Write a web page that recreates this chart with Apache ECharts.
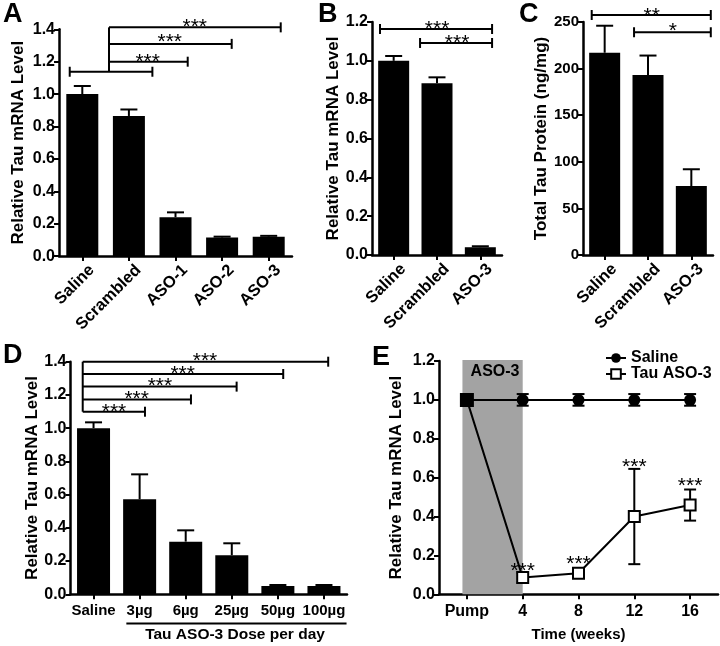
<!DOCTYPE html>
<html><head><meta charset="utf-8">
<script src="https://cdn.jsdelivr.net/npm/echarts@6/dist/echarts.min.js"></script>
<style>html,body{margin:0;padding:0;background:#fff}#c{width:720px;height:646px}</style>
</head><body><div id="c"></div>
<script>
// ---------- DATA ----------
const catsA = ['Saline','Scrambled','ASO-1','ASO-2','ASO-3'];
const valsA = [1.0, 0.865, 0.24, 0.115, 0.12];
const errA  = [0.05, 0.04, 0.03, 0.005, 0.005];

const catsB = ['Saline','Scrambled','ASO-3'];
const valsB = [1.0, 0.885, 0.04];
const errB  = [0.025, 0.03, 0.005];

const catsC = ['Saline','Scrambled','ASO-3'];
const valsC = [217, 193, 74];
const errC  = [29, 21, 18];

const catsD = ['Saline','3µg','6µg','25µg','50µg','100µg'];
const valsD = [1.0, 0.572, 0.317, 0.235, 0.05, 0.05];
const errD  = [0.035, 0.15, 0.068, 0.072, 0.006, 0.006];

const timeE = ['Pump','4','8','12','16'];
const salineE    = [1.0, 1.0, 1.0, 1.0, 1.0];
const salineErrE = [0, 0.03, 0.03, 0.03, 0.03];
const asoE       = [1.0, 0.086, 0.108, 0.40, 0.459];
const asoErrE    = [0, 0.025, 0.02, 0.245, 0.08];

// significance annotations (data coordinates: category index, value)
const bracketsA = [[-0.27,1.504,1.138,1,1],[0.573,2.262,1.2,0,1],[0.573,3.206,1.31,0,1],[0.573,4.258,1.412,0,1]];
const linksA = [[0.573,1.138,1.412]];
const starsA = [[1.403,1.229,'***'],[1.876,1.352,'***'],[2.413,1.445,'***']];

const bracketsB = [[-0.315,2.271,1.164,1,1],[0.609,2.271,1.092,1,1]];
const starsB = [[1.001,1.19,'***'],[1.463,1.117,'***']];

const bracketsC = [[-0.299,2.449,257.5,1,1],[0.678,2.449,239,1,1]];
const starsC = [[1.087,262,'**'],[1.572,245.4,'*']];

const bracketsD = [[-0.235,1.116,1.099,0,1],[-0.235,2.114,1.173,0,1],[-0.235,3.105,1.25,0,1],[-0.235,4.116,1.326,0,1],[-0.235,5.092,1.4,0,1],[0.712,5.49,-0.175,0,0]];
const linksD = [[-0.235,1.099,1.4]];
const starsD = [[0.444,1.129,'***'],[0.936,1.206,'***'],[1.441,1.28,'***'],[1.934,1.356,'***'],[2.418,1.435,'***']];
const textsD = [[3.07,-0.245,'Tau ASO-3 Dose per day']];

const shadeE = [[-0.08,1.0,0,1.205]];
const textsE = [[0.504,1.145,'ASO-3']];
const starsE = [[1,0.146,'***'],[2,0.183,'***'],[3,0.682,'***'],[4,0.582,'***']];

// ---------- STYLE / LAYOUT ----------
const FF = "'Liberation Sans', Arial, sans-serif";
const grids = [
  {left:59,   top:29.3, width:233,   height:226.8},
  {left:372,  top:22,   width:130,   height:233},
  {left:583,  top:22,   width:130,   height:233},
  {left:70.5, top:361.7,width:276.5, height:232.6},
  {left:439,  top:361,  width:279,   height:233.3}
];
const catData = [catsA, catsB, catsC, catsD, timeE];

const axisLine = {show:true, onZero:false, lineStyle:{color:'#000', width:2.5}};
const axisTick = {show:true, length:5, lineStyle:{color:'#000', width:2}};

const xAxes = [];
catData.forEach((cats, i) => {
  const rot = i < 3;
  const lab = {color:'#000', fontFamily:FF, fontWeight:'bold', fontSize: rot?16.5:(i===4?16:15),
      rotate: rot?45:0, interval:0, margin: rot?2:9};
  if (rot) { lab.verticalAlign = 'top'; lab.lineHeight = 27; }
  xAxes.push({
    type:'category', gridIndex:i, data:cats,
    axisLine, axisTick:Object.assign({alignWithLabel:true}, axisTick),
    axisLabel: lab,
    name: i===4 ? 'Time (weeks)' : '', nameLocation:'middle', nameGap:33,
    nameTextStyle:{color:'#000', fontFamily:FF, fontWeight:'bold', fontSize:15}
  });
  xAxes.push({type:'value', gridIndex:i, show:false, min:-0.5, max:cats.length-0.5,
    axisLine:{onZero:false}});
});

const yCfg = [
  {max:1.4, interval:0.2, dec:1, name:'Relative Tau mRNA Level', gap:32},
  {max:1.2, interval:0.2, dec:1, name:'Relative Tau mRNA Level', gap:30},
  {max:250, interval:50, dec:0, name:'Total Tau Protein (ng/mg)', gap:31},
  {max:1.4, interval:0.2, dec:1, name:'Relative Tau mRNA Level', gap:30},
  {max:1.2, interval:0.2, dec:1, name:'Relative Tau mRNA Level', gap:34}
];
const yAxes = yCfg.map((c, i) => ({
  type:'value', gridIndex:i, min:0, max:c.max, interval:c.interval,
  splitLine:{show:false}, axisLine, axisTick,
  axisLabel:{color:'#000', fontFamily:FF, fontWeight:'bold', fontSize: i===2?15:16, margin:4,
    formatter: v => v.toFixed(c.dec)},
  name:c.name, nameLocation:'middle', nameGap:c.gap, nameRotate:90,
  nameTextStyle:{color:'#000', fontFamily:FF, fontWeight:'bold', fontSize:17}
}));

// ---------- RENDERERS ----------
function errBarSeries(g, vals, errs, both, capW, z) {
  return {
    type:'custom', xAxisIndex:2*g, yAxisIndex:g, z:z||3, silent:true,
    data: vals.map((v, i) => [i, both ? v - errs[i] : v, v + errs[i]]),
    renderItem: function(params, api) {
      const i = params.dataIndex;
      if (!errs[i]) return null;
      const lo = api.coord([api.value(0), api.value(1)]);
      const hi = api.coord([api.value(0), api.value(2)]);
      const st = {stroke:'#000', lineWidth:2};
      const ch = [
        {type:'line', shape:{x1:lo[0], y1:lo[1], x2:hi[0], y2:hi[1]}, style:st},
        {type:'line', shape:{x1:hi[0]-capW/2, y1:hi[1], x2:hi[0]+capW/2, y2:hi[1]}, style:st}
      ];
      if (both) ch.push({type:'line', shape:{x1:lo[0]-capW/2, y1:lo[1], x2:lo[0]+capW/2, y2:lo[1]}, style:st});
      return {type:'group', children:ch};
    }
  };
}

function bracketSeries(g, arr) {
  return {
    type:'custom', xAxisIndex:2*g+1, yAxisIndex:g, z:5, silent:true, clip:false,
    data: arr.map(b => [b[0], b[1], b[2]]),
    renderItem: function(params, api) {
      const b = arr[params.dataIndex];
      const p1 = api.coord([b[0], b[2]]), p2 = api.coord([b[1], b[2]]);
      const st = {stroke:'#000', lineWidth:2};
      const ch = [{type:'line', shape:{x1:p1[0], y1:p1[1], x2:p2[0], y2:p2[1]}, style:st}];
      if (b[3]) ch.push({type:'line', shape:{x1:p1[0], y1:p1[1]-5, x2:p1[0], y2:p1[1]+5}, style:st});
      if (b[4]) ch.push({type:'line', shape:{x1:p2[0], y1:p2[1]-5, x2:p2[0], y2:p2[1]+5}, style:st});
      return {type:'group', children:ch};
    }
  };
}

function linkSeries(g, arr) {
  return {
    type:'custom', xAxisIndex:2*g+1, yAxisIndex:g, z:5, silent:true, clip:false,
    data: arr.map(b => [b[0], b[1], b[2]]),
    renderItem: function(params, api) {
      const b = arr[params.dataIndex];
      const p1 = api.coord([b[0], b[1]]), p2 = api.coord([b[0], b[2]]);
      return {type:'line', shape:{x1:p1[0], y1:p1[1], x2:p2[0], y2:p2[1]}, style:{stroke:'#000', lineWidth:2}};
    }
  };
}

function textSeries(g, arr, size, weight, glyphShift) {
  return {
    type:'custom', xAxisIndex:2*g+1, yAxisIndex:g, z:6, silent:true, clip:false,
    data: arr.map(t => [t[0], t[1]]),
    renderItem: function(params, api) {
      const t = arr[params.dataIndex];
      const p = api.coord([t[0], t[1]]);
      return {type:'text', x:p[0], y:p[1] + size*glyphShift,
        style:{text:t[2], fill:'#000', font: weight + ' ' + size + 'px ' + FF,
          align:'center', verticalAlign:'middle', textAlign:'center', textVerticalAlign:'middle'}};
    }
  };
}

function shadeSeries(g, arr) {
  return {
    type:'custom', xAxisIndex:2*g+1, yAxisIndex:g, z:1, silent:true, clip:false,
    data: arr.map(s => [s[0], s[2]]),
    renderItem: function(params, api) {
      const s = arr[params.dataIndex];
      const p1 = api.coord([s[0], s[3]]), p2 = api.coord([s[1], s[2]]);
      return {type:'rect', shape:{x:p1[0], y:p1[1], width:p2[0]-p1[0], height:p2[1]-p1[1]},
        style:{fill:'#a3a3a3'}};
    }
  };
}

function barSeries(g, vals, w) {
  return {type:'bar', xAxisIndex:2*g, yAxisIndex:g, data:vals, barWidth:w,
    itemStyle:{color:'#000'}, z:2, silent:true};
}

const STAR = 21;
const series = [
  barSeries(0, valsA, 32), errBarSeries(0, valsA, errA, false, 17),
  bracketSeries(0, bracketsA), linkSeries(0, linksA), textSeries(0, starsA, STAR, 'normal', 0.24),
  barSeries(1, valsB, 31), errBarSeries(1, valsB, errB, false, 17),
  bracketSeries(1, bracketsB), textSeries(1, starsB, STAR, 'normal', 0.24),
  barSeries(2, valsC, 31), errBarSeries(2, valsC, errC, false, 17),
  bracketSeries(2, bracketsC), textSeries(2, starsC, STAR, 'normal', 0.24),
  barSeries(3, valsD, 33), errBarSeries(3, valsD, errD, false, 17),
  bracketSeries(3, bracketsD), linkSeries(3, linksD), textSeries(3, starsD, STAR, 'normal', 0.24),
  textSeries(3, textsD, 15.5, 'bold', 0),
  shadeSeries(4, shadeE), textSeries(4, textsE, 16, 'bold', 0),
  errBarSeries(4, salineE, salineErrE, true, 12, 3),
  errBarSeries(4, asoE, asoErrE, true, 12, 3),
  {type:'line', name:'Saline', xAxisIndex:8, yAxisIndex:4, data:salineE, z:4,
    symbol:'circle', symbolSize:12, lineStyle:{color:'#000', width:2},
    itemStyle:{color:'#000', borderColor:'#000', borderWidth:0}, silent:true},
  {type:'line', name:'Tau ASO-3', xAxisIndex:8, yAxisIndex:4, z:5,
    data: asoE.map((v, i) => i === 0 ? {value:v, symbolSize:12, itemStyle:{color:'#000'}} : v),
    symbol:'rect', symbolSize:11, lineStyle:{color:'#000', width:2},
    itemStyle:{color:'#fff', borderColor:'#000', borderWidth:2}, silent:true},
  textSeries(4, starsE, STAR, 'normal', 0.24)
];

const letters = [['A',3,1],['B',318,1],['C',519,1],['D',3,342],['E',372,344]];

const option = {
  animation:false,
  backgroundColor:'#fff',
  textStyle:{fontFamily:FF},
  grid: grids,
  xAxis: xAxes,
  yAxis: yAxes,
  legend:{data:['Saline','Tau ASO-3'], orient:'vertical', left:600, top:345,
    itemWidth:20, itemHeight:12, itemGap:0,
    textStyle:{color:'#000', fontFamily:FF, fontWeight:'bold', fontSize:16}},
  graphic: letters.map(l => ({type:'text', left:l[1], top:l[2],
    style:{text:l[0], fill:'#000', font:'bold 27px ' + FF}})),
  series: series
};
const chart = echarts.init(document.getElementById('c'), null, {renderer:'canvas'});
chart.setOption(option);
</script>
</body></html>
